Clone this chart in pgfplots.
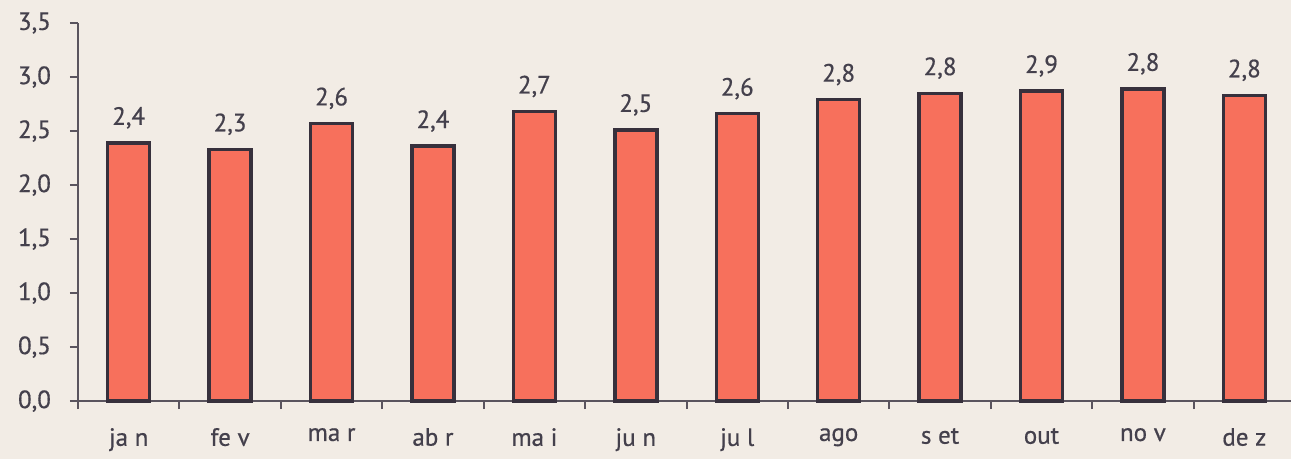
\documentclass[border=0pt]{standalone}
\usepackage{pgfplots}
\pgfplotsset{compat=1.18}
\usepackage{pgfplotstable}
\usepackage{fontspec}
\setmainfont{PT Sans}[BoldFont=PT Sans, BoldFeatures={FakeBold=0.6}]
\usetikzlibrary{backgrounds}
\definecolor{paper}{RGB}{242,236,229}
\definecolor{barfill}{RGB}{247,112,92}
\definecolor{barline}{RGB}{55,48,60}
\definecolor{axcol}{RGB}{90,84,94}
\definecolor{txt}{RGB}{68,64,76}
\newcommand{\lblfont}{\fontsize{12.5}{14}\selectfont\bfseries}
\pgfplotstableread{
x y label
0 2.39 {2,4}
1 2.33 {2,3}
2 2.57 {2,6}
3 2.36 {2,4}
4 2.68 {2,7}
5 2.51 {2,5}
6 2.66 {2,6}
7 2.79 {2,8}
8 2.85 {2,8}
9 2.87 {2,9}
10 2.89 {2,8}
11 2.83 {2,8}
}\data
\begin{document}
\begin{tikzpicture}
\begin{axis}[
 scale only axis, x=50.7pt, y=54pt,
 xmin=-0.5, xmax=11.46, ymin=0, ymax=3.5,
 axis lines=left, axis line style={-, draw=axcol, line width=1pt},
 ytick={0,0.5,1,1.5,2,2.5,3,3.5},
 /pgf/number format/assume math mode=true,
 yticklabel style={/pgf/number format/.cd,use comma,fixed,fixed zerofill,precision=1,assume math mode=true, /tikz/.cd, font=\lblfont, text=txt, xshift=-6pt},
 xticklabel style={font=\lblfont, text=txt},
 tick align=outside, major tick length=4pt,
 tick style={draw=axcol, line width=1pt},
 xtick={-0.5,0.5,...,10.5}, xticklabels={},
 extra x ticks={0,1,2,3,4,5,6,7,8,9,10,11},
 extra x tick labels={ja n,fe v,ma r,ab r,ma i,ju n,ju l,ago,s et,out,no v,de z},
 extra x tick style={major tick length=0pt, tick style={draw=none}, xticklabel style={yshift=-10pt}},
 clip=false,
]
\addplot[ybar, bar width=21pt, bar shift=0pt, fill=barfill, draw=barline, line width=1.7pt,
  point meta=explicit symbolic, nodes near coords,
  every node near coord/.append style={font=\lblfont, text=txt, yshift=3pt}]
  table[x=x, y=y, meta=label] {\data};
\coordinate (BL) at (axis cs:-1.269,-0.537);
\coordinate (TR) at (axis cs:11.46,3.713);
\end{axis}
\begin{scope}[on background layer]
\fill[paper] (BL) rectangle (TR);
\end{scope}
\pgfresetboundingbox
\path[use as bounding box] (BL) rectangle (TR);
\end{tikzpicture}
\end{document}
